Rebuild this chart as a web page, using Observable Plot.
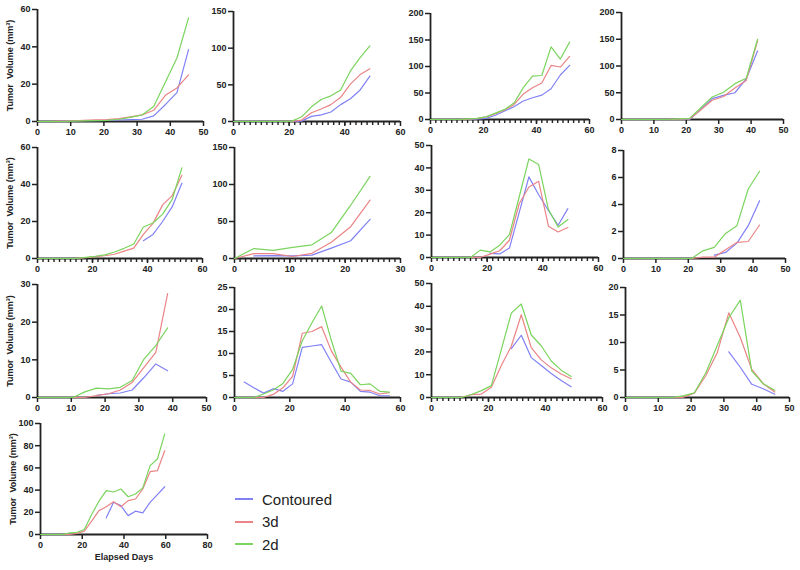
<!DOCTYPE html>
<html>
<head>
<meta charset="utf-8">
<script src="https://cdn.jsdelivr.net/npm/d3@7"></script>
<script src="https://cdn.jsdelivr.net/npm/@observablehq/plot@0.6"></script>
<style>
  body { margin: 0; background: #fff; }
  #chart { position: relative; width: 800px; height: 570px; font-family: "Liberation Sans", Arial, sans-serif; }
  #chart svg { position: absolute; overflow: visible; }
  #chart svg text { font-weight: bold; }
  .leyenda { position: absolute; left: 235px; top: 488px; font-size: 15px; color: #222; }
  .leyenda div { display: flex; align-items: center; height: 22.5px; }
  .leyenda .linea { width: 18px; height: 2px; margin-right: 9px; }
</style>
</head>
<body>
<div id="chart"></div>
<script>
// dias de medicion (eje x comun a todos los paneles)
const days = [0, 3.5, 7, 10.5, 14, 17.5, 21, 24.5, 28, 31.5, 35, 38.5, 42, 45.5, 49, 52.5, 56, 59.5]
const series = ['Contoured', '3d', '2d']
const colors = ['#8181f5', '#ea8486', '#7bd45e']

// volumenes por panel (null = sin medicion)
const p1C = [null, null, 0.3, 0.3, 0.4, 0.5, 0.6, 0.8, 1.0, 1.2, 3, 9, 15.5, 38.5]
const p1R = [0, 0, 0.2, 0.4, 0.6, 0.9, 1.0, 1.5, 2.5, 3.5, 6, 14, 18, 25]
const p1G = [0, 0, 0, 0.2, 0.3, 0.5, 0.6, 1.2, 2.2, 3.5, 8, 21, 34, 55.5]

const p2C = [0, 0, 0, 0, 0, 0, 0, 0.5, 7, 9, 13, 23, 31, 43, 62]
const p2R = [0, 0, 0, 0, 0, 0, 0, 2, 12, 17, 23, 33, 51, 64, 72]
const p2G = [0, 0, 0, 0, 0, 0, 0.5, 6.4, 20, 30, 35, 43, 69, 87, 103]

const p3C = [0, 0, 0, 0, 0, 0.5, 2, 8, 16, 24, 35, 41, 46, 58, 84, 102]
const p3R = [0, 0, 0, 0, 0.5, 1.5, 5, 11, 18, 28, 48, 60, 69, 102, 99, 119]
const p3G = [0, 0, 0, 0, 1, 2, 5, 12, 19, 31, 60, 82, 83, 137, 114, 146]

const p4C = [0, 0, 0, 0, 0, 0, 0, 19, 39, 45, 50, 76, 128]
const p4R = [0, 0, 0, 0, 0, 0.5, 1, 18, 36, 43, 59, 73, 147]
const p4G = [0, 0, 0, 0, 0, 1, 2, 22, 42, 51, 67, 77, 150]

const p5C = [null, null, null, null, null, null, null, null, null, null, null, 9.6, 13, 20, 28, 40.7]
const p5R = [0, 0, 0, 0, 0, 0.4, 1, 1.5, 2.3, 4, 5.6, 13, 19, 29, 34, 45]
const p5G = [0, 0, 0, 0, 0, 0.6, 1.2, 2, 3.5, 5.5, 7.8, 17, 19.2, 24, 32, 49]

const p6C = [null, 3.5, 4, 3.5, 4.5, 14, 24, 53]
const p6R = [0, 6.5, 6.5, 2.7, 7, 22, 43, 79]
const p6G = [0, 13.5, 11, 15, 18.5, 35, 72, 111]

const p7C = [null, null, null, null, null, null, 1.8, 1.6, 4.2, 20, 36, 28, 21, 14.4, 21.8]
const p7R = [0, 0, 0, 0, 0, 0, 1.5, 3, 7.7, 24, 31.5, 34, 14, 11.4, 13.4]
const p7G = [0, 0, 0, 0, 0, 3.3, 2.5, 5.5, 10.2, 27, 44, 41.5, 21.5, 13.6, 17]

const p8C = [null, null, null, null, null, null, null, null, 0.25, 0.45, 1.14, 2.43, 4.28]
const p8R = [0, 0, 0, 0, 0, 0, 0, 0.1, 0.1, 0.64, 1.19, 1.26, 2.48]
const p8G = [0, 0, 0, 0, 0, 0, 0, 0.57, 0.82, 1.86, 2.43, 5.15, 6.46]

const p9C = [null, null, null, null, null, 0.6, 1, 1.2, 2, 5.3, 8.9, 7.1]
const p9R = [0, 0, 0, 0, 0, 0.5, 1, 2, 4, 8, 12, 27.6]
const p9G = [0, 0, 0, 0, 1.5, 2.5, 2.3, 2.7, 4.5, 10.2, 13.8, 18.5]

const p10C = [null, 3.5, 2.2, 1, 2, 1.4, 3.1, 11.4, 11.7, 12, 8, 4.2, 3.5, 1.4, 1.2, 0.4, 0.4]
const p10R = [0, 0, 0, 0, 0.7, 2.2, 4.8, 14.6, 15, 16.1, 10.6, 6.9, 3.5, 1.7, 1.6, 0.8, 1.1]
const p10G = [0, 0, 0, 0.8, 1.7, 3.2, 6.4, 12.9, 17, 20.8, 13, 6, 5.5, 2.9, 3.1, 1.4, 1.2]

const p11C = [null, null, null, null, null, null, null, null, 21.4, 27.3, 17.5, 14, 10.5, 7.5, 4.7]
const p11R = [0, 0, 0, 0, 1.3, 1.5, 4.5, 14, 22.5, 36.3, 21.9, 16.5, 13, 10.3, 8.2]
const p11G = [0, 0, 0, 0, 1.3, 3, 5.2, 21, 37, 41, 27.4, 22.7, 16, 12, 9.2]

const p12C = [null, null, null, null, null, null, null, null, null, 8.3, 5.5, 2.4, 1.6, 0.6]
const p12R = [0, 0, 0, 0, 0, 0, 0.8, 4, 8.2, 15.4, 10.9, 5.1, 2.5, 1]
const p12G = [0, 0, 0, 0, 0, 0.3, 0.85, 4.5, 9.5, 14.5, 17.7, 4.8, 2.5, 1.3]

const p13C = [null, null, null, null, null, null, null, null, null, 15, 29, 26, 17, 21, 19.5, 29, 36, 43]
const p13R = [0, 0, 0, 0, 0, 1, 3, 12, 21.5, 25, 29.6, 25, 30.5, 32, 41, 56.6, 57.5, 75.5]
const p13G = [0, 0, 0, 0, 1.5, 2, 4.5, 18, 30, 39.5, 38.3, 41, 34, 36.5, 42, 62, 68, 90.4]

// ticks
const x50 = [0, 10, 20, 30, 40, 50]
const x60 = [0, 20, 40, 60]
const x30 = [0, 10, 20, 30]
const x80 = [0, 20, 40, 60, 80]

const yLabel = 'Tumor  Volume (mm³)'

// box = [izq, arriba, der, abajo] del area de datos en la pagina
const panels = [
  {c: p1C, r: p1R, g: p1G, xTicks: x50, yTicks: [0, 20, 40, 60], box: [37, 9, 203, 121], yLabel},
  {c: p2C, r: p2R, g: p2G, xTicks: x60, yTicks: [0, 50, 100, 150], minor: 2, box: [233, 11, 400, 121]},
  {c: p3C, r: p3R, g: p3G, xTicks: x60, yTicks: [0, 50, 100, 150, 200], minor: 2, box: [430, 13, 589, 119]},
  {c: p4C, r: p4R, g: p4G, xTicks: x50, yTicks: [0, 50, 100, 150, 200], box: [621, 12, 783, 119]},
  {c: p5C, r: p5R, g: p5G, xTicks: x60, yTicks: [0, 20, 40, 60], minor: 2, box: [37, 147, 202, 258], yLabel},
  {c: p6C, r: p6R, g: p6G, xTicks: x30, yTicks: [0, 50, 100, 150], minor: 1, box: [234, 147, 400, 258]},
  {c: p7C, r: p7R, g: p7G, xTicks: x60, yTicks: [0, 10, 20, 30, 40, 50], minor: 2, box: [431, 145, 598, 257]},
  {c: p8C, r: p8R, g: p8G, xTicks: x50, yTicks: [0, 2, 4, 6, 8], box: [623, 150, 785, 258]},
  {c: p9C, r: p9R, g: p9G, xTicks: x50, yTicks: [0, 10, 20, 30], box: [37, 284, 206, 397], yLabel},
  {c: p10C, r: p10R, g: p10G, xTicks: x60, yTicks: [0, 5, 10, 15, 20, 25], box: [234, 287, 400, 397]},
  {c: p11C, r: p11R, g: p11G, xTicks: x60, yTicks: [0, 10, 20, 30, 40, 50], minor: 2, box: [431, 283, 602, 397]},
  {c: p12C, r: p12R, g: p12G, xTicks: x50, yTicks: [0, 5, 10, 15, 20], box: [625, 287, 789, 397]},
  {c: p13C, r: p13R, g: p13G, xTicks: x80, yTicks: [0, 20, 40, 60, 80, 100], box: [40, 423, 207, 534], yLabel, xLabel: 'Elapsed Days'},
]

const contenedor = document.getElementById('chart')

panels.forEach(p => {
  const [izq, arriba, der, abajo] = p.box
  const ml = 36, mr = 16, mt = 8
  const mb = p.xLabel ? 34 : 22
  const xMax = p.xTicks[p.xTicks.length - 1]
  const yMax = p.yTicks[p.yTicks.length - 1]

  const filas = []
  ;[p.c, p.r, p.g].forEach((vals, k) => {
    vals.forEach((v, j) => { if (v != null) filas.push({dia: days[j], vol: v, serie: series[k]}) })
  })

  const marks = [
    Plot.axisX({ticks: p.xTicks, tickSize: 5, tickPadding: 2, strokeWidth: 1.5, fontWeight: 'bold',
      label: p.xLabel ?? null, labelAnchor: 'center', labelArrow: 'none', labelOffset: 25}),
    Plot.axisY({ticks: p.yTicks, tickSize: 5, tickPadding: 2, strokeWidth: 1.5, fontWeight: 'bold',
      label: p.yLabel ?? null, labelAnchor: 'center', labelArrow: 'none', labelOffset: 31}),
  ]
  if (p.minor) {
    // marcas menores del eje x (unos 4 px por debajo del eje)
    const bajo = -yMax * 4 / (abajo - arriba)
    marks.push(Plot.ruleX(d3.range(p.minor, xMax, p.minor), {y1: () => 0, y2: () => bajo, stroke: '#222', strokeWidth: 1.4}))
  }
  marks.push(Plot.ruleX([0], {stroke: '#222', strokeWidth: 1.8}))
  marks.push(Plot.ruleY([0], {stroke: '#222', strokeWidth: 1.8}))
  series.forEach((s, k) => {
    marks.push(Plot.line(filas.filter(d => d.serie === s), {x: 'dia', y: 'vol', stroke: colors[k], strokeWidth: 1.2}))
  })

  const grafico = Plot.plot({
    width: der - izq + ml + mr,
    height: abajo - arriba + mt + mb,
    marginLeft: ml, marginRight: mr, marginTop: mt, marginBottom: mb,
    x: {domain: [0, xMax]},
    y: {domain: [0, yMax]},
    style: {fontFamily: '"Liberation Sans", Arial, sans-serif', fontSize: '9px', fontWeight: 'bold', color: '#222', background: 'transparent', overflow: 'visible'},
    marks,
  })
  grafico.style.left = (izq - ml) + 'px'
  grafico.style.top = (arriba - mt) + 'px'
  contenedor.append(grafico)
})

// leyenda
const leyenda = document.createElement('div')
leyenda.className = 'leyenda'
series.forEach((s, k) => {
  const fila = document.createElement('div')
  fila.innerHTML = `<span class="linea" style="background:${colors[k]}"></span>${s}`
  leyenda.append(fila)
})
contenedor.append(leyenda)
</script>
</body>
</html>
